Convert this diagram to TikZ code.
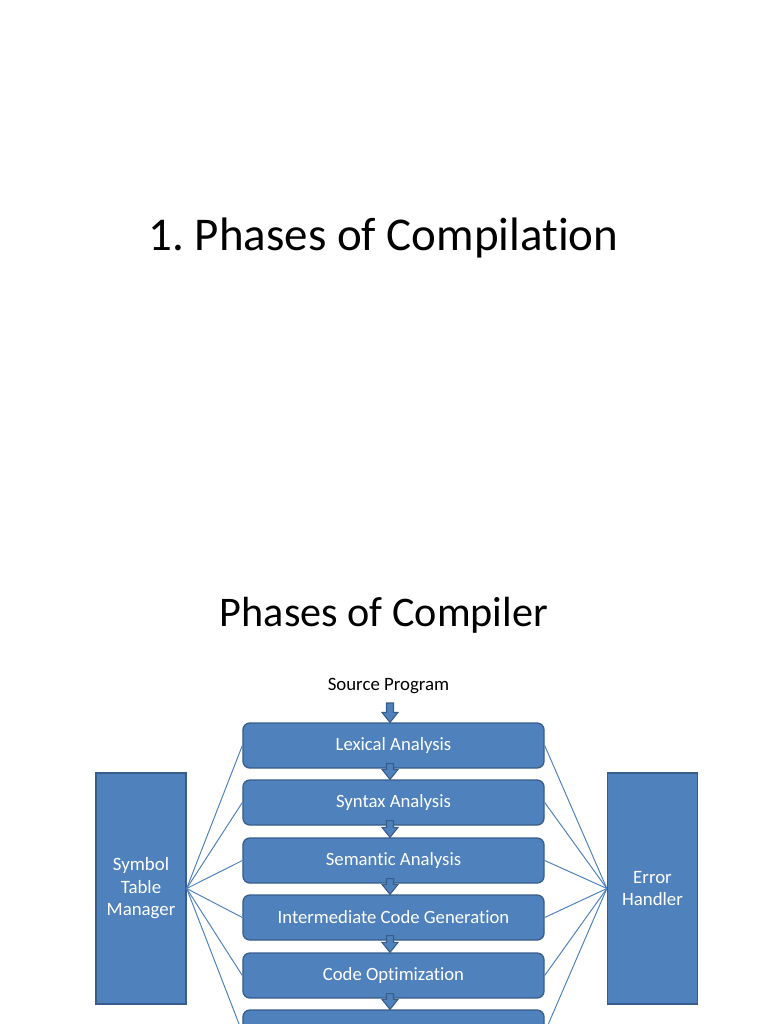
\documentclass[tikz,border=0pt]{standalone}
\usepackage{fontspec}
\setmainfont{Carlito}[Ligatures=NoCommon]
\usepackage{tikz}
\usetikzlibrary{calc}

\definecolor{boxfill}{HTML}{4F81BD}
\definecolor{boxline}{HTML}{385D8A}

\begin{document}
\frenchspacing
\begin{tikzpicture}[
      x=0.025cm, y=-0.025cm,
      title node/.style={font=\fontsize{30}{36}\selectfont},
      phase/.style={draw=boxline,line width=0.9pt,fill=boxfill,rounded corners=0.17cm,
        minimum width=7.525cm,minimum height=1.125cm,text=white,
        font=\fontsize{13.3}{16}\selectfont},
      side box/.style={draw=boxline,line width=0.9pt,fill=boxfill,
        minimum width=2.25cm,minimum height=5.775cm,text=white,align=center,
        font=\fontsize{13.4}{16}\selectfont},
      tie/.style={boxfill,line width=0.7pt},
      flow/.style={draw=boxline,line width=0.8pt,fill=boxfill,line join=miter}
      ]
      \useasboundingbox (0,0) rectangle (768,1024);
      \clip (0,0) rectangle (768,1024);
      % titles
      \node [title node,font=\fontsize{33.4}{40}\selectfont] (slide1) at (383.5,238) {1. Phases of Compilation};
      \node [title node] (slide2) at (384,615) {Phases of Compiler};
      \node [font=\fontsize{13.4}{16}\selectfont] (src) at (388.5,686) {Source Program};
      % phases
      \node [phase] (lex) at (393.5,745.5) {Lexical Analysis};
      \node [phase] (syn) at (393.5,802.5) {Syntax Analysis};
      \node [phase] (sem) at (393.5,860.5) {Semantic Analysis};
      \node [phase] (icg) at (393.5,917.5) {Intermediate Code Generation};
      \node [phase] (opt) at (393.5,975.5) {Code Optimization};
      \node [phase] (gen) at (393.5,1032.5) {};
      % managers
      \node [side box] (stm) at (141,888.5) {Symbol\\Table\\Manager};
      \node [side box] (err) at (652.5,888.5) {Error\\Handler};
      % ties
      \foreach \p in {lex,syn,sem,icg,opt,gen} {
          \draw [tie] (stm.east) -- (\p.west);
          \draw [tie] (err.west) -- (\p.east);
      }
      % block arrows (a little left of the box centres)
      \coordinate (srcfoot) at (390,703);
      \draw [flow] ($(srcfoot)+(-3.5,0)$) -- ($(lex.north)+(-7,-10)$) -- ($(lex.north)+(-11.5,-10)$)
          -- ($(lex.north)+(-3.5,0)$) -- ($(lex.north)+(4.5,-10)$) -- ($(lex.north)+(0,-10)$)
          -- ($(srcfoot)+(3.5,0)$) -- cycle;
      \foreach \a/\b in {lex/syn,syn/sem,sem/icg,icg/opt,opt/gen} {
          \draw [flow] ($(\a.south)+(-7,-5)$) -- ($(\b.north)+(-7,-10)$) -- ($(\b.north)+(-11.5,-10)$)
              -- ($(\b.north)+(-3.5,0)$) -- ($(\b.north)+(4.5,-10)$) -- ($(\b.north)+(0,-10)$)
              -- ($(\a.south)+(0,-5)$) -- cycle;
      }
\end{tikzpicture}
\end{document}
